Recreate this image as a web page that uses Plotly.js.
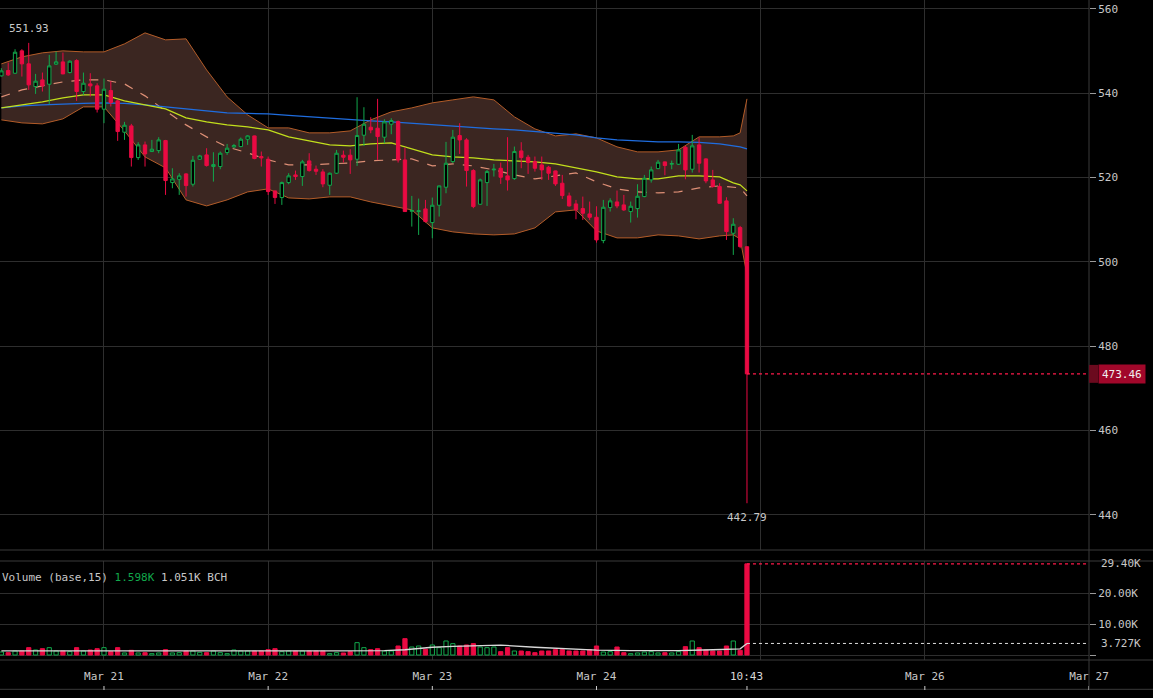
<!DOCTYPE html>
<html><head><meta charset="utf-8">
<script src="https://cdn.plot.ly/plotly-3.0.1.min.js"></script>
<style>html,body{margin:0;padding:0;background:#000;}#chart{width:1153px;height:698px;}</style>
</head><body><div id="chart"></div>
<script>
// Hourly candles, index 1 = 2024-03-20 09:00
const openP = [544.11,545.38,544.74,550.04,546.96,541.58,543.16,542.13,546.88,547.43,544.90,547.75,540.40,542.21,541.74,536.21,540.63,538.18,530.75,532.25,
524.74,527.75,526.17,526.40,528.78,518.81,519.60,520.87,518.42,524.35,525.38,522.61,522.61,525.93,527.27,527.35,529.09,529.88,524.98,524.35,
516.84,515.26,518.81,520.63,520.24,523.95,521.98,521.34,518.18,521.03,525.30,525.30,524.35,530.04,531.94,531.70,529.57,532.65,533.28,524.19,
512.00,511.94,512.57,509.33,513.44,517.71,523.79,529.96,528.93,521.66,513.68,518.81,521.82,522.21,520.40,519.76,526.32,524.82,523.79,523.00,
522.45,521.58,518.66,515.65,513.75,512.65,511.38,510.59,505.06,512.89,514.23,513.52,511.94,512.65,515.49,519.45,522.13,523.72,523.16,523.16,
527.19,521.98,527.75,524.43,519.45,517.87,514.47,506.80,508.14,503.60];
const highP = [545.93,547.27,550.43,550.43,551.93,544.58,544.90,549.09,549.88,549.64,547.80,548.06,544.90,544.74,542.37,543.48,542.85,538.42,533.20,532.73,
528.38,528.54,528.93,529.57,528.93,522.21,521.03,521.03,525.14,525.40,526.96,526.01,526.17,527.98,527.98,529.49,530.04,529.95,526.17,524.98,
516.90,519.05,521.03,521.66,524.19,525.77,522.85,521.98,521.19,526.56,526.40,526.72,539.05,536.68,534.31,538.66,533.83,534.07,533.52,527.11,
515.65,515.02,514.70,515.26,518.10,528.46,531.30,532.89,529.33,521.98,519.76,521.82,523.24,523.56,529.57,527.35,528.38,525.38,524.98,524.98,
522.77,521.65,520.63,516.44,514.70,515.49,514.31,513.20,514.70,515.10,516.92,515.89,514.31,518.42,520.63,522.61,524.19,523.80,524.03,527.98,
527.51,530.12,529.49,524.58,521.82,518.66,515.34,510.36,508.54,503.65];
const lowP = [543.95,544.11,544.58,543.95,540.79,539.84,540.40,537.39,546.72,544.50,544.70,538.18,539.60,539.21,535.42,532.89,536.84,528.70,528.93,522.61,
524.19,522.61,526.10,525.77,515.89,517.47,515.89,515.49,517.87,524.20,522.61,519.05,521.98,525.38,526.96,527.19,527.75,524.35,522.61,515.89,
513.75,513.52,518.42,519.45,518.02,521.42,520.63,517.71,515.89,520.87,523.56,520.87,522.77,527.51,530.51,524.19,528.14,530.28,523.56,511.90,
508.38,506.40,509.33,505.61,510.75,516.28,523.40,525.61,517.87,512.73,513.52,513.28,520.24,518.50,516.92,519.45,522.21,520.87,521.42,519.45,
519.45,518.02,514.94,513.12,510.12,509.96,509.96,504.58,504.43,511.94,512.73,512.09,509.33,510.51,515.34,518.81,521.98,520.55,521.98,523.00,
519.60,521.19,521.19,518.66,517.63,513.85,505.22,501.66,503.24,442.79];
const closeP = [545.30,544.35,549.72,546.96,541.98,542.85,541.74,546.48,547.43,544.58,547.59,540.40,542.37,541.74,536.21,540.95,537.79,530.91,532.41,524.74,
527.75,525.61,526.72,528.93,519.29,519.68,520.40,518.10,524.11,525.14,522.85,523.08,525.77,526.96,527.59,529.09,529.88,524.51,524.66,516.68,
515.26,518.81,520.40,520.24,523.72,521.66,521.50,518.50,521.03,525.77,524.82,524.19,529.96,532.65,531.30,529.72,533.20,533.52,524.19,511.94,
512.20,512.10,509.57,513.44,518.02,523.40,529.57,528.93,521.66,513.12,519.45,521.42,521.98,520.08,519.45,526.17,524.74,523.56,522.21,521.82,
521.03,518.50,515.73,513.28,512.33,511.54,510.59,505.22,512.96,514.47,513.28,512.33,513.20,515.57,519.84,521.82,523.64,522.85,523.32,526.56,
521.82,527.51,523.40,519.21,517.87,513.91,507.19,508.93,503.64,473.46];
// volume in thousands
const volumeK = [0.97,0.75,1.29,1.29,2.37,1.61,2.04,2.37,1.29,1.29,1.08,2.37,1.29,1.61,2.04,2.37,1.08,2.37,0.65,1.51,
0.65,0.75,0.43,0.65,1.72,0.65,0.75,1.29,1.29,0.86,0.75,1.29,0.75,0.43,1.61,1.29,1.29,1.29,1.29,1.72,
2.04,1.08,1.29,1.29,1.29,1.29,1.29,1.29,0.43,0.75,0.65,1.08,3.98,2.37,1.72,2.04,1.29,1.29,2.90,5.27,
2.58,2.90,1.83,3.23,2.37,4.52,3.66,2.90,3.23,3.66,2.58,2.37,2.58,1.08,2.37,1.29,1.29,1.08,0.75,1.29,
1.29,1.72,1.72,1.29,1.29,1.29,1.72,2.90,0.97,1.08,2.58,0.75,0.43,0.65,0.97,1.08,0.65,0.75,0.65,1.08,
2.69,4.52,2.37,1.61,1.29,1.29,2.90,4.52,1.51,29.40];
// Bollinger band & moving averages, read at these candle indices
const bandIdx = [1,4,7,10,13,16,19,22,25,28,31,34,37,40,43,46,49,52,55,58,61,64,67,70,73,76,79,82,85,88,91,94,97,100,103,106,108,109,110];
const bandUpper = [546.96,548.62,549.57,550.04,549.80,549.80,551.70,554.31,552.65,552.89,545.53,539.13,534.86,531.78,531.78,530.60,530.60,531.07,533.68,535.58,
536.52,537.71,538.42,539.13,538.42,534.39,531.54,529.88,530.36,529.41,527.28,526.09,526.09,526.56,529.65,529.65,529.88,530.60,538.66];
const bandLower = [533.68,532.97,532.73,533.92,536.76,536.76,531.07,524.90,522.30,514.71,513.28,514.71,516.60,517.32,515.18,514.94,515.42,515.42,514.23,513.28,
512.34,508.07,507.12,506.64,506.41,506.64,508.07,511.86,512.34,507.36,505.70,505.70,506.41,506.17,505.46,506.17,506.41,505.46,496.92];
const bandMid = [539.13,540.79,541.74,542.69,543.16,543.16,542.21,539.37,535.81,532.49,529.65,527.28,525.85,524.19,523.01,523.01,523.24,523.48,523.96,524.19,
524.43,522.77,523.24,522.77,521.82,520.63,519.69,520.40,521.11,518.98,517.32,516.60,516.37,516.60,517.55,518.03,517.79,517.55,515.66];
const maYellow = [536.52,537.24,537.95,538.90,539.61,539.61,538.18,537.24,536.29,534.15,533.20,532.49,532.02,531.31,529.65,528.70,527.75,527.51,527.99,528.22,
526.80,525.38,524.90,524.67,524.19,523.96,523.72,523.24,522.30,521.35,520.16,519.69,519.69,520.40,520.40,520.16,518.74,518.26,516.84];
const maBlue = [536.52,536.99,537.24,537.47,537.59,537.71,537.59,537.24,536.76,536.29,535.81,535.34,535.22,535.10,534.74,534.39,534.03,533.68,533.44,533.20,
532.85,532.61,532.25,531.78,531.54,531.31,530.95,530.60,530.12,529.41,528.94,528.70,528.46,528.46,528.34,527.99,527.51,527.28,526.80];
const volMaIdx = [1,10,20,30,40,50,57,60,64,67,71,74,79,84,88,93,100,105,108,109,110];
const volMaK = [1.35,1.40,1.45,1.30,1.35,1.35,1.40,1.70,2.50,2.80,3.00,3.20,2.50,1.90,1.60,1.40,1.40,1.70,2.00,2.00,3.727];
const dayTicks = ['2024-03-21','2024-03-22','2024-03-23','2024-03-24','2024-03-25','2024-03-26','2024-03-27'];
const dayLabels = ['Mar 21','Mar 22','Mar 23','Mar 24','','Mar 26','Mar 27'];

const GREEN = '#12a84c', RED = '#ea0a43', GRID = '#2e2e2e', TXT = '#c8c8c8', FONT = 'DejaVu Sans Mono';
function hourStr(i){const d=new Date(Date.UTC(2024,2,20,9)+(i-1)*3600000);return d.toISOString().slice(0,16).replace('T',' ');}
const N = openP.length;
const xs = openP.map((_,k)=>hourStr(k+1));
const bx = bandIdx.map(hourStr);
const isUp = openP.map((o,k)=>closeP[k]>=o);
const lastX = xs[N-1];
const PR = [431.7,562.1];

const traces = [
 {x:bx,y:bandLower,type:'scatter',mode:'lines',line:{color:'#b35c28',width:1},xaxis:'x',yaxis:'y'},
 {x:bx,y:bandUpper,type:'scatter',mode:'lines',line:{color:'#b35c28',width:1},fill:'tonexty',fillcolor:'#3b2621',xaxis:'x',yaxis:'y'},
 {x:bx,y:bandMid,type:'scatter',mode:'lines',line:{color:'#de8f76',width:1.2,dash:'dash'},xaxis:'x',yaxis:'y'},
 {x:bx,y:maBlue,type:'scatter',mode:'lines',line:{color:'#1f6ddf',width:1.2},xaxis:'x',yaxis:'y'},
 {x:bx,y:maYellow,type:'scatter',mode:'lines',line:{color:'#c2df1c',width:1.2},xaxis:'x',yaxis:'y'},
 {x:xs,open:openP,high:highP,low:lowP,close:closeP,type:'candlestick',xaxis:'x',yaxis:'y3',
  increasing:{line:{color:GREEN,width:1},fillcolor:'#000000'},
  decreasing:{line:{color:RED,width:1},fillcolor:RED},hoverinfo:'skip'},
 {x:xs,y:volumeK.map(v=>v*1000),type:'bar',xaxis:'x',yaxis:'y2',width:0.62*3600000,
  marker:{color:isUp.map(u=>u?'#000000':RED),line:{color:isUp.map(u=>u?GREEN:RED),width:1}}},
 {x:volMaIdx.map(hourStr),y:volMaK.map(v=>v*1000),type:'scatter',mode:'lines',line:{color:'#d8d8d8',width:1.3},xaxis:'x',yaxis:'y2'}
];

const H = 690; // plot-area height (t=0,b=8)
const py = px => 1 - px/H;
const XR = 1153/1089;
const shapes = [
 {type:'line',xref:'paper',yref:'paper',x0:0,x1:XR,y0:py(550),y1:py(550),line:{color:'#3a3a3a',width:1}},
 {type:'line',xref:'paper',yref:'paper',x0:0,x1:XR,y0:py(561),y1:py(561),line:{color:'#3a3a3a',width:1}},
 {type:'line',xref:'paper',yref:'paper',x0:0,x1:XR,y0:py(660),y1:py(660),line:{color:'#3a3a3a',width:1}},
 {type:'line',xref:'paper',yref:'paper',x0:0,x1:XR,y0:0.001,y1:0.001,line:{color:'#3a3a3a',width:1}},
 {type:'line',xref:'paper',yref:'paper',x0:1,x1:1,y0:0,y1:1,line:{color:'#3a3a3a',width:1}},
 {type:'line',xref:'x',yref:'y',x0:lastX,x1:'2024-03-27',y0:closeP[N-1],y1:closeP[N-1],line:{color:'#ff1a4a',width:1.2,dash:'dot'}},
 {type:'line',xref:'x',yref:'y2',x0:lastX,x1:'2024-03-27',y0:volumeK[N-1]*1000,y1:volumeK[N-1]*1000,line:{color:'#ff1a4a',width:1.2,dash:'dot'}},
 {type:'line',xref:'x',yref:'y2',x0:lastX,x1:'2024-03-27',y0:volMaK[volMaK.length-1]*1000,y1:volMaK[volMaK.length-1]*1000,line:{color:'#e0e0e0',width:1,dash:'dot'}},
 {type:'rect',xref:'paper',yref:'y',x0:1,x1:1098/1089,y0:closeP[N-1]-2.13,y1:closeP[N-1]+2.13,fillcolor:'#6b0a1e',line:{width:0}}
];
[...dayTicks.filter((d,k)=>dayLabels[k]!==''),lastX].forEach(d=>{
 shapes.push({type:'line',xref:'x',yref:'paper',x0:d,x1:d,y0:0,y1:4/H,line:{color:'#cfcfcf',width:1}});
});

const annotations = [
 {text:'551.93',x:hourStr(5),y:highP[4],xref:'x',yref:'y',yshift:14,showarrow:false,font:{family:FONT,size:11,color:TXT}},
 {text:'442.79',x:lastX,y:lowP[N-1],xref:'x',yref:'y',yshift:-14,showarrow:false,font:{family:FONT,size:11,color:TXT}},
 {text:'473.46',x:1,xref:'paper',xanchor:'left',xshift:9,y:closeP[N-1],yref:'y',yanchor:'middle',showarrow:false,bgcolor:'#a1072a',borderpad:3,height:12,font:{family:FONT,size:11,color:'#f0f0f0'}},
 {text:'29.40K',x:1,xref:'paper',xanchor:'left',xshift:10,y:volumeK[N-1]*1000,yref:'y2',yanchor:'middle',showarrow:false,font:{family:FONT,size:11,color:TXT}},
 {text:'3.727K',x:1,xref:'paper',xanchor:'left',xshift:10,y:volMaK[volMaK.length-1]*1000,yref:'y2',yanchor:'middle',showarrow:false,font:{family:FONT,size:11,color:TXT}},
 {text:'Volume (base,15) <span style="color:#12a84c">1.598K</span> 1.051K BCH',x:0,xref:'paper',xanchor:'left',y:py(577),yref:'paper',yanchor:'middle',showarrow:false,font:{family:FONT,size:11,color:TXT}},
 {text:'10:43',x:lastX,xref:'x',y:py(676),yref:'paper',yanchor:'middle',showarrow:false,font:{family:FONT,size:11,color:'#d8d8d8'}}
];

const layout = {
 width:1153,height:698,margin:{l:0,r:64,t:0,b:8},
 paper_bgcolor:'#000',plot_bgcolor:'#000',showlegend:false,hovermode:false,dragmode:false,
 font:{family:FONT,size:11,color:TXT},
 xaxis:{type:'date',range:['2024-03-20 08:48','2024-03-27 00:00'],anchor:'y2',domain:[0,1],
   tickvals:dayTicks,ticktext:dayLabels,showgrid:true,gridcolor:GRID,gridwidth:1,ticks:'',
   ticklabelstandoff:8,rangeslider:{visible:false},showline:false,zeroline:false,tickfont:{family:FONT,size:11,color:TXT},fixedrange:true},
 yaxis:{domain:[py(550),1],range:PR,side:'right',anchor:'x',tickvals:[440,460,480,500,520,540,560],
   showgrid:true,gridcolor:GRID,ticks:'outside',ticklen:6,tickcolor:'#9a9a9a',zeroline:false,showline:false,tickfont:{family:FONT,size:11,color:TXT},fixedrange:true},
 yaxis3:{overlaying:'y',range:PR,side:'right',anchor:'x',visible:false,showgrid:false,fixedrange:true},
 yaxis2:{domain:[py(660),py(561)],range:[-1613,30323],side:'right',anchor:'x',tickvals:[0,10000,20000],ticktext:['','10.00K','20.00K'],
   showgrid:true,gridcolor:GRID,ticks:'outside',ticklen:6,tickcolor:'#9a9a9a',zeroline:false,showline:false,tickfont:{family:FONT,size:11,color:TXT},fixedrange:true},
 shapes:shapes,annotations:annotations,bargap:0
};
Plotly.newPlot('chart',traces,layout,{displayModeBar:false,staticPlot:true});
</script></body></html>
